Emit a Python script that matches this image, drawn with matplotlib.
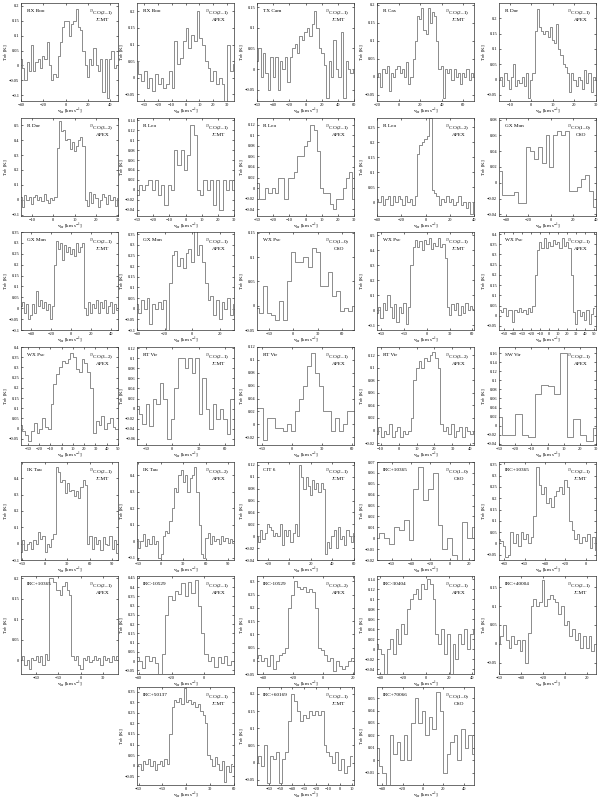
import numpy as np
import matplotlib
matplotlib.use("Agg")
import matplotlib.pyplot as plt
from matplotlib.ticker import FuncFormatter

plt.rcParams["font.family"] = ["Liberation Serif", "DejaVu Serif"]
plt.rcParams["mathtext.fontset"] = "stix"

# ---- spectra: (first channel velocity, channel width) and T_mb per channel ----
rxboo_jcmt_v = (-40, 2)
rxboo_jcmt_T = [0.02, -0.01, -0.05, 0.01, -0.02, 0.07, -0.02, 0.01, 0.02, -0.01, 0.03, 0.02,
                0.08, 0.0, -0.05, -0.03, -0.04, 0.03, 0.08, 0.13, 0.15, 0.15, 0.1, 0.14, 0.15,
                0.19, 0.13, 0.12, 0.05, 0.0, -0.04, 0.02, 0.0, 0.06, 0.0, -0.02, 0.02, -0.09,
                0.02, -0.11, 0.02, 0.05, -0.01, 0.0]
rxboo_apex_v = (-35, 2)
rxboo_apex_T = [0.05, 0.01, -0.01, 0.02, -0.03, 0.0, -0.04, 0.01, -0.02, 0.0, -0.03, -0.02,
                0.02, -0.03, 0.11, 0.04, 0.06, 0.11, 0.15, 0.09, 0.13, 0.11, 0.2, 0.12, 0.1,
                0.05, 0.03, -0.01, 0.02, -0.02, 0.0, -0.02, -0.07, 0.1, 0.02, 0.04]
txcam_v = (-60, 3)
txcam_T = [0.02, 0.05, -0.02, 0.04, -0.01, -0.05, 0.03, -0.02, 0.03, -0.05, 0.02, 0.0, 0.03,
           -0.03, 0.03, 0.05, 0.06, 0.04, 0.08, 0.07, 0.09, 0.1, 0.08, 0.11, 0.14, 0.1, 0.05,
           0.04, 0.01, -0.07, 0.02, -0.02, 0.07, 0.0, -0.02, 0.09, -0.07, 0.02, 0.0, -0.01, 0.0]
rcas_v = (-20, 2)
rcas_T = [0.0, 0.01, -0.03, 0.02, 0.01, 0.03, -0.04, 0.01, 0.0, 0.02, 0.03, 0.01, 0.02, 0.0,
          0.04, -0.02, 0.0, 0.05, 0.1, 0.17, 0.16, 0.19, 0.13, 0.12, 0.19, 0.15, 0.18, 0.17,
          0.1, 0.02, 0.03, -0.06, 0.02, 0.01, 0.02, -0.01, 0.02, 0.0, 0.01, -0.02, 0.01, 0.0,
          0.02, -0.01, 0.01, 0.0]
rdor21_v = (-15, 1)
rdor21_T = [0.0, 0.01, -0.02, 0.02, 0.0, -0.03, 0.01, 0.05, -0.02, 0.0, -0.01, 0.01, -0.02,
            0.02, -0.06, 0.0, 0.02, 0.16, 0.23, 0.17, 0.16, 0.15, 0.16, 0.14, 0.17, 0.13, 0.12,
            0.18, 0.1, 0.08, 0.05, 0.04, 0.02, -0.04, 0.02, 0.0, -0.02, 0.01, 0.0, -0.03, 0.03,
            -0.01, 0.02, -0.04, 0.01, 0.0]
rdor32_v = (-15, 1)
rdor32_T = [0.02, -0.05, 0.03, 0.0, 0.02, -0.03, 0.02, 0.03, 0.0, 0.02, -0.01, 0.04, 0.0,
            -0.02, 0.01, 0.0, 0.02, 0.35, 0.53, 0.46, 0.47, 0.4, 0.41, 0.34, 0.39, 0.33, 0.36,
            0.4, 0.42, 0.36, 0.0, -0.04, 0.05, -0.02, 0.04, 0.01, -0.05, 0.0, 0.04, 0.02, -0.03,
            0.03, 0.0, 0.02, -0.04, 0.01]
rleo_jcmt_v = (-30, 2)
rleo_jcmt_T = [-0.01, 0.01, 0.0, 0.01, 0.02, 0.0, 0.02, -0.01, 0.01, -0.03, 0.01, 0.0, 0.08,
               0.05, 0.08, 0.04, 0.07, 0.13, 0.11, 0.0, -0.01, 0.02, 0.0, 0.02, -0.03, 0.02,
               -0.04, 0.02, 0.0, 0.02, 0.0]
rleo_apex21_v = (-30, 2)
rleo_apex21_T = [0.01, -0.02, -0.02, 0.0, -0.01, 0.0, -0.01, 0.02, 0.02, -0.02, 0.02, 0.02,
                 0.03, 0.06, 0.06, 0.08, 0.09, 0.12, 0.11, 0.07, 0.0, -0.01, -0.01, -0.03, -0.04,
                 -0.02, -0.02, 0.0, 0.02, 0.03, -0.02]
rleo_apex32_v = (-40, 2)
rleo_apex32_T = [0.01, 0.0, 0.02, -0.01, 0.01, 0.02, -0.01, 0.02, 0.0, 0.02, 0.01, -0.01, 0.02,
                 0.0, 0.01, -0.01, 0.02, 0.16, 0.19, 0.2, 0.21, 0.22, 0.28, 0.04, 0.03, 0.02,
                 -0.01, 0.01, 0.0, 0.02, 0.0, 0.01, -0.01, 0.0, 0.02, -0.01, 0.0, -0.02, 0.0,
                 -0.04, 0.0]
gxmon_oso_v = (-45, 3.5)
gxmon_oso_T = [0.015, -0.015, -0.015, -0.015, -0.012, -0.025, -0.025, 0.045, 0.04, 0.03, 0.045,
               0.025, 0.06, 0.02, 0.06, 0.065, 0.06, 0.065, -0.01, -0.01, -0.005, 0.005, 0.01,
               -0.01, -0.03]
gxmon_jcmt_v = (-50, 2)
gxmon_jcmt_T = [0.01, 0.03, -0.02, 0.02, -0.05, -0.03, 0.02, -0.02, 0.08, 0.01, 0.04, 0.0, 0.03,
                -0.01, 0.02, -0.05, 0.01, 0.2, 0.31, 0.27, 0.3, 0.22, 0.29, 0.26, 0.28, 0.25,
                0.27, 0.24, 0.3, 0.26, 0.28, 0.3, 0.0, -0.03, 0.03, -0.02, 0.02, 0.0, 0.04, -0.02,
                0.03, 0.0, 0.04, -0.02, 0.01, 0.03, -0.02, 0.02, -0.01]
gxmon_apex_v = (-40, 2)
gxmon_apex_T = [0.02, -0.02, 0.04, 0.0, 0.05, -0.07, 0.02, 0.0, 0.03, 0.0, 0.04, -0.1, 0.12,
                0.25, 0.27, 0.2, 0.24, 0.19, 0.26, 0.28, 0.22, 0.37, 0.25, 0.3, 0.22, 0.12, 0.04,
                0.06, -0.03, 0.04, -0.05, 0.03, 0.0, 0.05, -0.03, 0.02]
wxpsc_oso_v = (-45, 5)
wxpsc_oso_T = [-0.005, -0.015, 0.04, -0.015, -0.02, -0.03, 0.01, -0.03, 0.05, 0.11, 0.09, 0.09,
               0.1, 0.08, 0.12, 0.11, 0.04, 0.04, 0.07, 0.02, 0.03, -0.01, -0.005, -0.01, 0.0]
wxpsc_jcmt_v = (-65, 3)
wxpsc_jcmt_T = [-0.02, 0.02, -0.05, 0.05, 0.0, 0.1, 0.02, -0.05, 0.04, -0.08, 0.02, -0.02, 0.05,
                -0.09, 0.02, 0.3, 0.42, 0.47, 0.42, 0.46, 0.4, 0.47, 0.44, 0.48, 0.41, 0.45, 0.43,
                0.48, 0.42, 0.44, 0.35, 0.02, -0.03, 0.04, 0.0, 0.05, -0.03, 0.03, -0.02, 0.05,
                0.0, 0.03, 0.01]
wxpsc_apex21_v = (-55, 2.5)
wxpsc_apex21_T = [0.03, 0.02, 0.04, 0.0, 0.03, 0.03, -0.03, 0.03, 0.02, 0.04, 0.02, 0.03, 0.01,
                  0.04, 0.02, 0.05, 0.2, 0.32, 0.36, 0.33, 0.38, 0.33, 0.36, 0.34, 0.37, 0.35,
                  0.36, 0.33, 0.38, 0.34, 0.36, 0.33, 0.2, 0.02, -0.04, 0.03, 0.0, 0.02, -0.02,
                  0.03, -0.04, 0.01, 0.04]
wxpsc_apex32_v = (-36, 2.5)
wxpsc_apex32_T = [0.02, -0.01, -0.03, -0.06, -0.01, 0.03, -0.02, 0.0, 0.05, 0.01, 0.0, 0.12, 0.22,
                  0.27, 0.3, 0.33, 0.32, 0.34, 0.37, 0.35, 0.29, 0.28, 0.34, 0.32, 0.28, 0.2,
                  -0.02, 0.04, 0.02, 0.06, 0.0, 0.03, 0.05, 0.01, 0.0]
rtvir_jcmt_v = (-40, 4)
rtvir_jcmt_T = [0.005, -0.01, -0.03, 0.01, -0.035, 0.02, 0.01, 0.05, 0.02, -0.06, -0.02, 0.04,
                0.1, 0.1, 0.08, 0.1, 0.07, 0.1, -0.01, 0.06, 0.0, -0.04, 0.01, -0.02, 0.0, -0.02,
                -0.05, 0.02]
rtvir_apex21_v = (-35, 4)
rtvir_apex21_T = [0.025, 0.025, -0.025, 0.01, 0.01, -0.005, -0.005, -0.01, 0.0, -0.01, 0.02,
                  0.04, 0.06, 0.09, 0.11, 0.08, 0.06, 0.02, 0.02, -0.01, 0.01, -0.01, 0.0, 0.02,
                  0.02]
rtvir_apex32_v = (-12, 1.5)
rtvir_apex32_T = [-0.005, 0.005, -0.01, 0.0, -0.005, 0.01, -0.01, 0.0, 0.005, -0.01, 0.0, -0.005,
                  0.0, 0.02, 0.08, 0.1, 0.11, 0.1, 0.115, 0.11, 0.12, 0.125, 0.115, 0.1, 0.01,
                  0.0, 0.005, -0.005, 0.01, -0.01, 0.0, 0.005, -0.01, 0.005, 0.0, -0.005, 0.0]
swvir_v = (-30, 4)
swvir_T = [0.02, -0.02, -0.02, 0.025, -0.02, -0.025, 0.07, 0.09, 0.088, 0.07, 0.16, -0.025,
           0.015, -0.02, -0.035, -0.005]
iktau_jcmt_v = (-32, 3)
iktau_jcmt_T = [-0.05, 0.02, -0.04, 0.0, 0.01, -0.03, 0.02, 0.0, 0.07, 0.03, 0.05, -0.05, 0.0,
                -0.02, 0.03, 0.06, 0.47, 0.44, 0.38, 0.39, 0.31, 0.37, 0.32, 0.33, 0.29, 0.32,
                0.28, 0.35, 0.39, 0.36, 0.0, 0.05, -0.03, 0.04, 0.0, 0.02, -0.04, 0.04, 0.0, -0.01,
                0.05, -0.03, 0.02, -0.06]
iktau_apex_v = (-32, 3)
iktau_apex_T = [0.01, -0.04, 0.0, 0.04, -0.03, 0.01, -0.02, 0.03, -0.02, 0.0, -0.1, -0.08, 0.03,
                0.06, 0.05, 0.12, 0.2, 0.32, 0.3, 0.4, 0.43, 0.36, 0.4, 0.3, 0.38, 0.4, 0.45, 0.3,
                0.1, -0.08, -0.1, 0.02, 0.05, -0.02, 0.03, 0.0, 0.01, -0.02, 0.03, 0.0, 0.02,
                -0.01, 0.01, -0.01]
cit6_v = (-30, 2)
cit6_T = [0.0, -0.01, 0.01, -0.005, 0.005, 0.02, 0.015, 0.01, 0.0, 0.005, 0.0, 0.02, -0.015,
          0.01, 0.0, 0.01, -0.01, 0.005, 0.02, 0.0, 0.12, 0.1, 0.08, 0.1, 0.085, 0.07, 0.095,
          0.08, 0.09, 0.075, 0.09, 0.08, -0.03, -0.01, -0.02, 0.0, 0.01, -0.02, 0.015, -0.005,
          0.0, -0.015, 0.01, 0.0, -0.01, 0.005]
irc10365_oso_v = (-75, 5)
irc10365_oso_T = [0.0, 0.005, 0.0, -0.005, 0.01, 0.008, 0.017, -0.002, 0.045, 0.065, 0.035,
                  0.045, 0.06, 0.012, -0.01, 0.0, -0.015, -0.02, 0.015, 0.0, 0.01]
irc10365_jcmt_v = (-85, 2.5)
irc10365_jcmt_T = [0.02, 0.01, -0.01, -0.06, -0.05, 0.05, 0.0, 0.04, -0.01, 0.05, 0.02, 0.04,
                   0.0, 0.03, 0.12, 0.34, 0.26, 0.22, 0.25, 0.18, 0.2, 0.16, 0.21, 0.23, 0.25,
                   0.22, 0.28, 0.25, 0.1, 0.06, 0.02, 0.04, 0.0, 0.03, 0.01, 0.04, -0.02, 0.03,
                   -0.03]
irc10365_apex_v = (-80, 3)
irc10365_apex_T = [0.0, 0.01, -0.01, 0.0, -0.02, 0.005, 0.0, 0.01, -0.005, 0.01, -0.01, 0.015,
                   0.0, 0.2, 0.2, 0.19, 0.17, 0.17, 0.16, 0.18, 0.19, 0.17, 0.16, 0.01, 0.0, 0.01,
                   -0.01, -0.02, 0.005, 0.0, 0.01, -0.005, 0.0, 0.01, 0.0, 0.005, -0.01, 0.01,
                   0.0, 0.005, -0.005, 0.01, 0.0, 0.01]
irc10529_21_v = (-41, 2)
irc10529_21_T = [0.02, 0.0, -0.04, 0.03, 0.0, 0.02, -0.01, -0.07, 0.04, 0.25, 0.35, 0.33, 0.38,
                 0.36, 0.42, 0.35, 0.43, 0.37, 0.44, 0.3, 0.15, 0.04, 0.0, 0.02, -0.03, 0.02,
                 -0.01, 0.03, -0.02, 0.0]
irc10529_32_v = (-44, 2)
irc10529_32_T = [0.01, 0.02, 0.0, 0.01, -0.02, 0.02, -0.03, 0.0, 0.02, 0.03, 0.05, 0.2, 0.25,
                 0.3, 0.28, 0.27, 0.28, 0.26, 0.27, 0.26, 0.2, 0.05, 0.04, 0.02, 0.0, 0.01, -0.04,
                 0.0, -0.02, -0.03, -0.02, 0.0, 0.01]
irc30404_v = (-43, 2.5)
irc30404_T = [0.01, 0.0, -0.01, -0.05, 0.0, 0.02, -0.01, 0.04, 0.01, 0.05, 0.03, 0.08, 0.1, 0.11,
              0.12, 0.1, 0.13, 0.12, 0.14, 0.13, 0.1, 0.03, 0.01, 0.04, -0.01, 0.03, -0.05, 0.01,
              -0.02, 0.03, 0.01, 0.04, 0.0, 0.03, 0.04]
irc40004_v = (-60, 2.5)
irc40004_T = [0.0, 0.02, 0.05, 0.01, -0.01, 0.02, 0.0, 0.01, -0.02, 0.01, -0.05, 0.03, 0.1, 0.12,
              0.1, 0.11, 0.17, 0.1, 0.12, 0.13, 0.12, 0.11, 0.08, 0.1, 0.05, 0.06, 0.02, 0.04,
              0.01, 0.03, -0.01, 0.02, -0.01, 0.02, -0.02, 0.0]
irc50137_v = (-62, 3)
irc50137_T = [0.0, 0.01, -0.02, 0.02, 0.01, 0.03, 0.0, 0.02, -0.02, 0.01, 0.02, 0.0, 0.03, 0.01,
              0.15, 0.28, 0.31, 0.3, 0.32, 0.29, 0.37, 0.3, 0.31, 0.29, 0.3, 0.28, 0.29, 0.26,
              0.24, 0.2, 0.05, 0.03, 0.0, 0.04, 0.01, -0.02, 0.02, -0.08, 0.0, -0.03, 0.01]
irc60169_v = (-70, 2.5)
irc60169_T = [0.0, 0.02, -0.01, 0.05, -0.06, 0.02, 0.01, 0.03, -0.06, 0.01, 0.03, 0.12, 0.2,
              0.18, 0.15, 0.12, 0.14, 0.13, 0.15, 0.14, 0.15, 0.14, 0.15, 0.05, 0.03, 0.02, 0.0,
              0.03, -0.02, 0.01, -0.03, -0.01, 0.02]
irc70066_v = (-45, 3.5)
irc70066_T = [0.01, -0.005, -0.01, -0.02, 0.02, 0.005, 0.015, 0.0, 0.02, 0.0, 0.03, 0.05, 0.03,
              0.04, 0.02, 0.035, 0.025, 0.055, 0.04, -0.01, 0.005, 0.015, 0.02, 0.0, 0.025, 0.01,
              0.02, 0.005]

# ---- panel table: grid cell, labels, spectrum, axis ranges ----
panels = [
    (0, 0, "RX Boo", "2-1", "JCMT", rxboo_jcmt_v, rxboo_jcmt_T, (-40, 47), (-0.12, 0.21),
     [-40, -20, 0, 20, 40], [-0.1, -0.05, 0, 0.05, 0.1, 0.15, 0.2]),
    (0, 1, "RX Boo", "2-1", "APEX", rxboo_apex_v, rxboo_apex_T, (-35, 35), (-0.07, 0.225),
     [-30, -20, -10, 0, 10, 20, 30], [-0.05, 0, 0.05, 0.1, 0.15, 0.2]),
    (0, 2, "TX Cam", "2-1", "JCMT", txcam_v, txcam_T, (-60, 60), (-0.077, 0.16),
     [-60, -40, -20, 0, 20, 40, 60], [-0.05, 0, 0.05, 0.1, 0.15]),
    (0, 3, "R Cas", "2-1", "JCMT", rcas_v, rcas_T, (-20, 70), (-0.068, 0.205),
     [-20, 0, 20, 40, 60], [-0.05, 0, 0.05, 0.1, 0.15, 0.2]),
    (0, 4, "R Dor", "2-1", "APEX", rdor21_v, rdor21_T, (-15, 30), (-0.07, 0.25),
     [-10, 0, 10, 20, 30], [-0.05, 0, 0.05, 0.1, 0.15, 0.2]),
    (1, 0, "R Dor", "3-2", "APEX", rdor32_v, rdor32_T, (-15, 30), (-0.11, 0.55),
     [-10, 0, 10, 20, 30], [-0.1, 0, 0.1, 0.2, 0.3, 0.4, 0.5]),
    (1, 1, "R Leo", "2-1", "JCMT", rleo_jcmt_v, rleo_jcmt_T, (-30, 30), (-0.053, 0.145),
     [-30, -20, -10, 0, 10, 20, 30], [-0.04, -0.02, 0, 0.02, 0.04, 0.06, 0.08, 0.1, 0.12, 0.14]),
    (1, 2, "R Leo", "2-1", "APEX", rleo_apex21_v, rleo_apex21_T, (-30, 30), (-0.053, 0.133),
     [-30, -20, -10, 0, 10, 20, 30], [-0.04, -0.02, 0, 0.02, 0.04, 0.06, 0.08, 0.1, 0.12]),
    (1, 3, "R Leo", "3-2", "APEX", rleo_apex32_v, rleo_apex32_T, (-40, 40), (-0.045, 0.28),
     [-40, -20, 0, 20, 40], [0, 0.05, 0.1, 0.15, 0.2, 0.25]),
    (1, 4, "GX Mon", "1-0", "OSO", gxmon_oso_v, gxmon_oso_T, (-46, 40), (-0.042, 0.082),
     [-40, -20, 0, 20, 40], [-0.04, -0.02, 0, 0.02, 0.04, 0.06, 0.08]),
    (2, 0, "GX Mon", "2-1", "JCMT", gxmon_jcmt_v, gxmon_jcmt_T, (-50, 47), (-0.1, 0.35),
     [-40, -20, 0, 20, 40], [-0.1, -0.05, 0, 0.05, 0.1, 0.15, 0.2, 0.25, 0.3, 0.35]),
    (2, 1, "GX Mon", "2-1", "APEX", gxmon_apex_v, gxmon_apex_T, (-40, 30), (-0.1, 0.36),
     [-40, -20, 0, 20], [-0.1, -0.05, 0, 0.05, 0.1, 0.15, 0.2, 0.25, 0.3, 0.35]),
    (2, 2, "WX Psc", "1-0", "OSO", wxpsc_oso_v, wxpsc_oso_T, (-45, 75), (-0.05, 0.152),
     [-30, 0, 30, 60], [-0.05, 0, 0.05, 0.1, 0.15]),
    (2, 3, "WX Psc", "2-1", "JCMT", wxpsc_jcmt_v, wxpsc_jcmt_T, (-65, 62), (-0.13, 0.52),
     [-60, -30, 0, 30, 60], [-0.1, 0, 0.1, 0.2, 0.3, 0.4, 0.5]),
    (2, 4, "WX Psc", "2-1", "APEX", wxpsc_apex21_v, wxpsc_apex21_T, (-56, 52), (-0.07, 0.41),
     [-50, -40, -30, -20, -10, 0, 10, 20, 30, 40, 50],
     [-0.05, 0, 0.05, 0.1, 0.15, 0.2, 0.25, 0.3, 0.35, 0.4]),
    (3, 0, "WX Psc", "3-2", "APEX", wxpsc_apex32_v, wxpsc_apex32_T, (-36, 50), (-0.08, 0.4),
     [-30, -20, -10, 0, 10, 20, 30, 40, 50],
     [-0.05, 0, 0.05, 0.1, 0.15, 0.2, 0.25, 0.3, 0.35, 0.4]),
    (3, 1, "RT Vir", "2-1", "JCMT", rtvir_jcmt_v, rtvir_jcmt_T, (-40, 70), (-0.072, 0.122),
     [-30, 0, 30, 60], [-0.06, -0.04, -0.02, 0, 0.02, 0.04, 0.06, 0.08, 0.1, 0.12]),
    (3, 2, "RT Vir", "2-1", "APEX", rtvir_apex21_v, rtvir_apex21_T, (-35, 62), (-0.032, 0.12),
     [-30, 0, 30, 60], [-0.02, 0, 0.02, 0.04, 0.06, 0.08, 0.1, 0.12]),
    (3, 3, "RT Vir", "3-2", "APEX", rtvir_apex32_v, rtvir_apex32_T, (-12, 42), (-0.023, 0.133),
     [-10, 0, 10, 20, 30, 40], [-0.02, 0, 0.02, 0.04, 0.06, 0.08, 0.1, 0.12]),
    (3, 4, "SW Vir", "2-1", "APEX", swvir_v, swvir_T, (-30, 30), (-0.043, 0.174),
     [-30, -20, -10, 0, 10, 20, 30],
     [-0.04, -0.02, 0, 0.02, 0.04, 0.06, 0.08, 0.1, 0.12, 0.14, 0.16]),
    (4, 0, "IK Tau", "2-1", "JCMT", iktau_jcmt_v, iktau_jcmt_T, (-32, 98), (-0.1, 0.5),
     [-30, 0, 30, 60, 90], [-0.1, 0, 0.1, 0.2, 0.3, 0.4]),
    (4, 1, "IK Tau", "3-2", "APEX", iktau_apex_v, iktau_apex_T, (-32, 98), (-0.115, 0.48),
     [-30, 0, 30, 60, 90], [-0.1, 0, 0.1, 0.2, 0.3, 0.4]),
    (4, 2, "CIT 6", "2-1", "JCMT", cit6_v, cit6_T, (-30, 60), (-0.04, 0.125),
     [-20, 0, 20, 40, 60], [-0.04, -0.02, 0, 0.02, 0.04, 0.06, 0.08, 0.1, 0.12]),
    (4, 3, "IRC+10365", "1-0", "OSO", irc10365_oso_v, irc10365_oso_T, (-75, 25), (-0.02, 0.07),
     [-60, -40, -20, 0, 20], [-0.02, -0.01, 0, 0.01, 0.02, 0.03, 0.04, 0.05, 0.06, 0.07]),
    (4, 4, "IRC+10365", "2-1", "JCMT", irc10365_jcmt_v, irc10365_jcmt_T, (-85, 10), (-0.073, 0.36),
     [-80, -60, -40, -20, 0], [-0.05, 0, 0.05, 0.1, 0.15, 0.2, 0.25, 0.3, 0.35]),
    (5, 0, "IRC+10365", "2-1", "APEX", irc10365_apex_v, irc10365_apex_T, (-80, 50), (-0.033, 0.205),
     [-60, -30, 0, 30], [0, 0.05, 0.1, 0.15, 0.2]),
    (5, 1, "IRC-10529", "2-1", "APEX", irc10529_21_v, irc10529_21_T, (-41, 18), (-0.07, 0.46),
     [-40, -20, 0], [-0.05, 0, 0.05, 0.1, 0.15, 0.2, 0.25, 0.3, 0.35, 0.4, 0.45]),
    (5, 2, "IRC-10529", "3-2", "APEX", irc10529_32_v, irc10529_32_T, (-44, 21), (-0.05, 0.32),
     [-40, -20, 0, 20], [-0.05, 0, 0.05, 0.1, 0.15, 0.2, 0.25, 0.3]),
    (5, 3, "IRC-30404", "2-1", "APEX", irc30404_v, irc30404_T, (-43, 42), (-0.05, 0.147),
     [-40, -20, 0, 20, 40], [-0.04, -0.02, 0, 0.02, 0.04, 0.06, 0.08, 0.1, 0.12, 0.14]),
    (5, 4, "IRC+40004", "2-1", "JCMT", irc40004_v, irc40004_T, (-60, 28), (-0.08, 0.18),
     [-60, -40, -20, 0, 20], [-0.05, 0, 0.05, 0.1, 0.15]),
    (6, 1, "IRC+50137", "2-1", "JCMT", irc50137_v, irc50137_T, (-62, 60), (-0.092, 0.373),
     [-60, -30, 0, 30, 60], [-0.05, 0, 0.05, 0.1, 0.15, 0.2, 0.25, 0.3, 0.35]),
    (6, 2, "IRC+60169", "2-1", "JCMT", irc60169_v, irc60169_T, (-70, 12), (-0.065, 0.22),
     [-60, -50, -40, -30, -20, -10, 0, 10], [-0.05, 0, 0.05, 0.1, 0.15, 0.2]),
    (6, 3, "IRC+70066", "1-0", "OSO", irc70066_v, irc70066_T, (-45, 50), (-0.02, 0.059),
     [-40, -20, 0, 20, 40], [-0.01, 0, 0.01, 0.02, 0.03, 0.04, 0.05]),
]

lefts = [21, 137, 257, 377, 499]
tops = [3, 118, 232, 347, 462, 576, 687]
W, H = 600.0, 801.0
pw, ph = 97, 98

fmt = FuncFormatter(lambda x, pos: ("%g" % round(x, 3)).replace("-", "\u2212"))

fig = plt.figure(figsize=(6, 8.01), dpi=100)

for row, col, name, line, tel, vspec, T, xlim, ylim, xt, yt in panels:
    ax = fig.add_axes([lefts[col] / W, 1 - (tops[row] + ph) / H, pw / W, ph / H])
    v0, dv = vspec
    v = v0 + dv * np.arange(len(T))
    ax.plot(v, T, drawstyle="steps-mid", color="#8c8c8c", lw=0.7)
    ax.set_xlim(*xlim)
    ax.set_ylim(*ylim)
    ax.set_xticks(xt)
    ax.set_yticks(yt)
    ax.xaxis.set_major_formatter(fmt)
    ax.yaxis.set_major_formatter(fmt)
    ax.tick_params(direction="in", length=1.5, width=0.4, labelsize=3.2, pad=1.2,
                   top=True, right=True)
    for s in ax.spines.values():
        s.set_linewidth(0.5)
        s.set_color("#333333")
    ax.set_xlabel(r"v$_{\rm lsr}$ [km s$^{-1}$]", fontsize=3.5)
    ax.xaxis.set_label_coords(0.5, -0.062)
    ax.set_ylabel(r"T$_{\rm mb}$ [K]", fontsize=3.6)
    ax.yaxis.set_label_coords(-0.115, 0.5)
    ax.text(0.06, 0.94, name, transform=ax.transAxes, fontsize=3.8, va="top", ha="left")
    ax.text(0.95, 0.94, r"$^{13}$CO(" + line.replace("-", "\u2013") + ")",
            transform=ax.transAxes, fontsize=3.8, va="top", ha="right")
    ax.text(0.84, 0.85, tel, transform=ax.transAxes, fontsize=3.8, va="top", ha="center")

fig.savefig("out.png", dpi=100)
